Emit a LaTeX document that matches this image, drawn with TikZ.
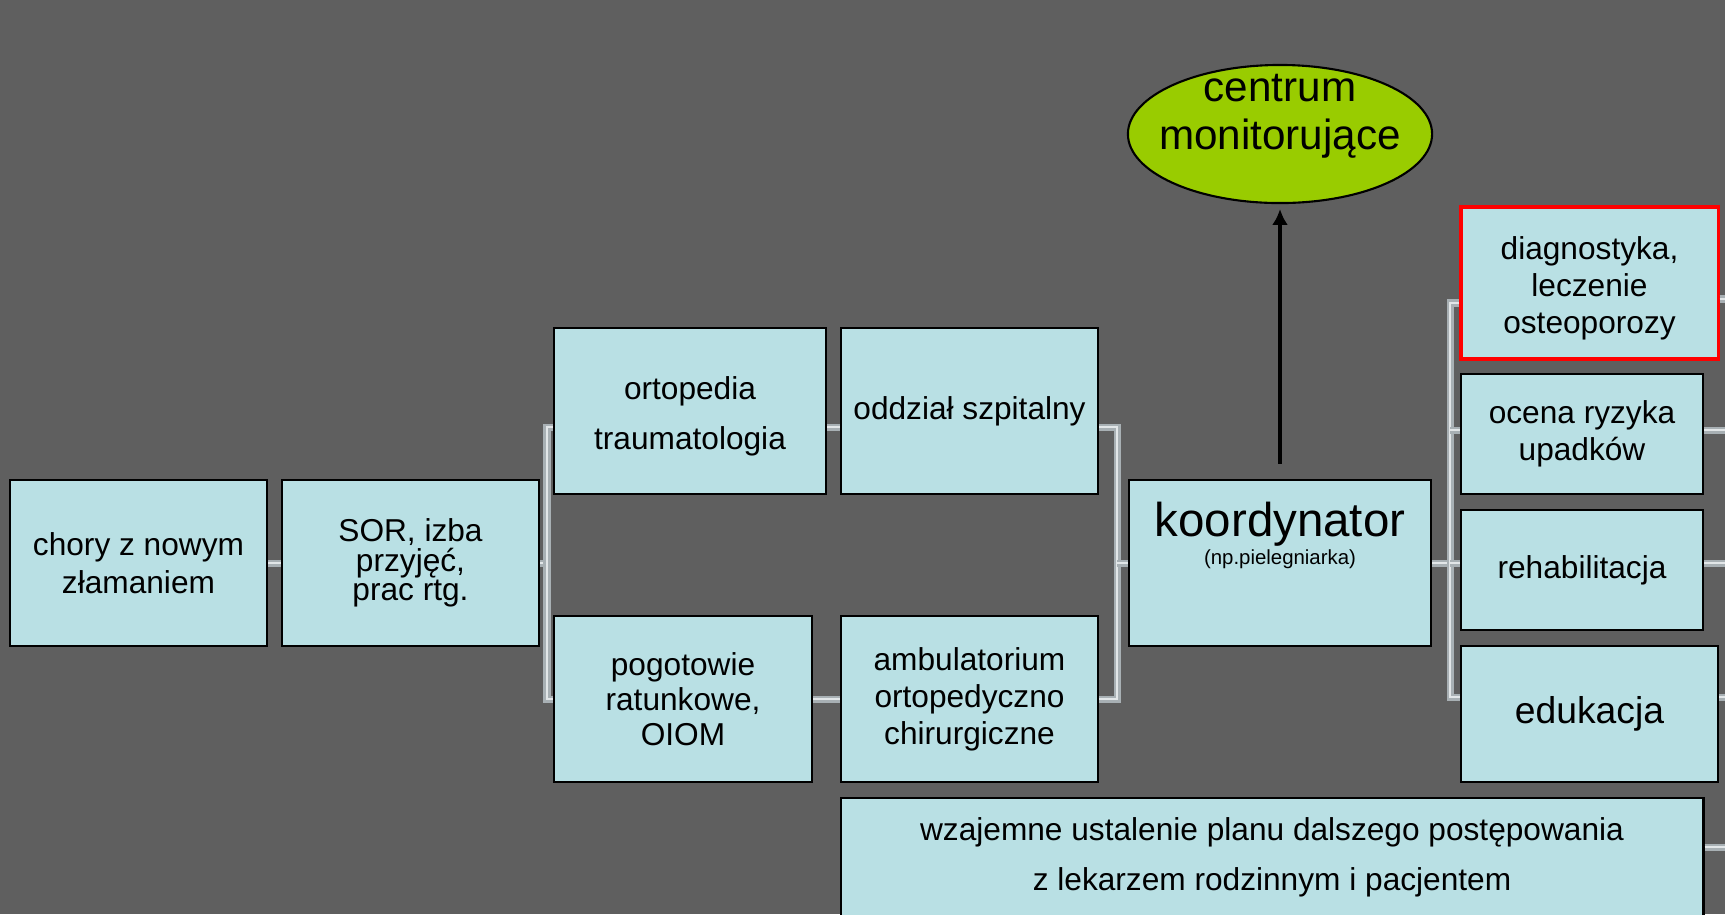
\documentclass[tikz,border=0pt]{standalone}
\usepackage{fontspec}
\setmainfont{Liberation Sans}
\usetikzlibrary{arrows.meta,shapes.geometric}
\definecolor{tlo}{RGB}{95,95,95}
\definecolor{blekit}{RGB}{185,224,228}
\definecolor{zielen}{RGB}{153,204,0}
\definecolor{rura}{RGB}{168,176,180}
\definecolor{rurajasna}{RGB}{226,230,232}

\begin{document}
\begin{tikzpicture}[x=0.01cm,y=-0.01cm,>={Latex[length=4.5pt,width=4.5pt]},
		box/.style={draw=black,line width=0.7pt,fill=blekit,align=center,inner sep=1pt,minimum width=2.57cm,minimum height=1.66cm,font=\fontsize{9}{10.8}\selectfont},
		pipe/.style={draw=rura,line width=0.6pt,double=rurajasna,double distance=0.8pt}]
			\fill[tlo] (0,0) rectangle (1725,914);
			\useasboundingbox (0,0) rectangle (1725,914);
			
			\node[box] (chory) at (138.5,563) {chory z nowym\\złamaniem};
			\node[box,font=\fontsize{9}{8.4}\selectfont] (sor) at (410.5,563) {SOR, izba\\przyjęć,\\prac rtg.};
			\node[box,minimum width=2.72cm,text height=24pt,font=\fontsize{9}{14.4}\selectfont] (orto) at (690,411) {ortopedia\\traumatologia};
			\node[box,minimum width=2.58cm,font=\fontsize{9}{10}\selectfont] (pogot) at (683,699) {pogotowie\\ratunkowe,\\OIOM};
			\node[box] (oddz) at (969.5,411) {oddział szpitalny};
			\node[box,font=\fontsize{9}{10.5}\selectfont] (ambul) at (969.5,699) {ambulatorium\\ortopedyczno\\chirurgiczne};
			\node[box,minimum width=3.02cm,text depth=17pt,font=\fontsize{9}{8}\selectfont] (koord) at (1280,563) {{\fontsize{13.5}{15}\selectfont koordynator}\\{\fontsize{5.8}{7}\selectfont(np.pielegniarka)}};
			\node[ellipse,draw=black,line width=0.6pt,fill=zielen,minimum width=3.04cm,minimum height=1.38cm,inner sep=0pt,
				label={[align=center,font=\fontsize{12}{13.7}\selectfont,yshift=5pt]center:centrum\\monitorujące}] (centrum) at (1280,134) {};
			
			\node[box,draw=red,line width=0.9pt,minimum height=1.52cm,text height=30.5pt,font=\fontsize{9}{10.5}\selectfont] (diag) at (1589.5,283) {diagnostyka,\\leczenie\\osteoporozy};
			\node[box,minimum width=2.42cm,minimum height=1.2cm,font=\fontsize{9}{10.5}\selectfont] (ocena) at (1582,434) {ocena ryzyka\\upadków};
			\node[box,minimum width=2.42cm,minimum height=1.2cm] (rehab) at (1582,570) {rehabilitacja};
			\node[box,minimum height=1.36cm,font=\fontsize{10.6}{12}\selectfont] (eduk) at (1589.5,714) {edukacja};
			\node[box,minimum width=8.62cm,minimum height=1.19cm] (wzaj) at (1272,857.5) {wzajemne ustalenie planu dalszego postępowania\\[3.5pt]z lekarzem rodzinnym i pacjentem};
			
			% rozgalezienia
			\coordinate (sj) at (547,563);
			\coordinate (kj) at (1117,563);
			\coordinate (rj) at (1450,563);
			\draw[pipe] (chory) -- (sor);
			\draw[pipe] (sor) -- (sj);
			\draw[pipe] (orto.west |- 0,427) -| (sj) |- (pogot);
			\draw[pipe] (orto.east |- 0,427) -- (oddz.west |- 0,427);
			\draw[pipe] (pogot) -- (ambul);
			\draw[pipe] (oddz.east |- 0,427) -| (kj) |- (ambul);
			\draw[pipe] (kj) -- (koord);
			\draw[pipe] (koord) -- (rj);
			\draw[pipe] (diag.west |- 0,303) -| (rj) |- (eduk.west |- 0,697);
			\draw[pipe] (ocena.west |- 0,430) -- (rj |- 0,430);
			\draw[pipe] (rehab.west |- rj) -- (rj);
			
			% wyjscia w prawo
			\coordinate (w1) at (1725,299);
			\coordinate (w2) at (1725,430);
			\coordinate (w3) at (1725,563);
			\coordinate (w4) at (1725,697);
			\coordinate (w5) at (1725,847);
			\draw[pipe] (diag.east |- w1) -- (w1);
			\draw[pipe] (ocena.east |- w2) -- (w2);
			\draw[pipe] (rehab.east |- w3) -- (w3);
			\draw[pipe] (eduk.east |- w4) -- (w4);
			\draw[pipe] (wzaj.east |- w5) -- (w5);
			
			\draw[->,line width=1.1pt,shorten <=4.3pt,shorten >=1.4pt] (koord) -- (centrum);
		\end{tikzpicture}
\end{document}
